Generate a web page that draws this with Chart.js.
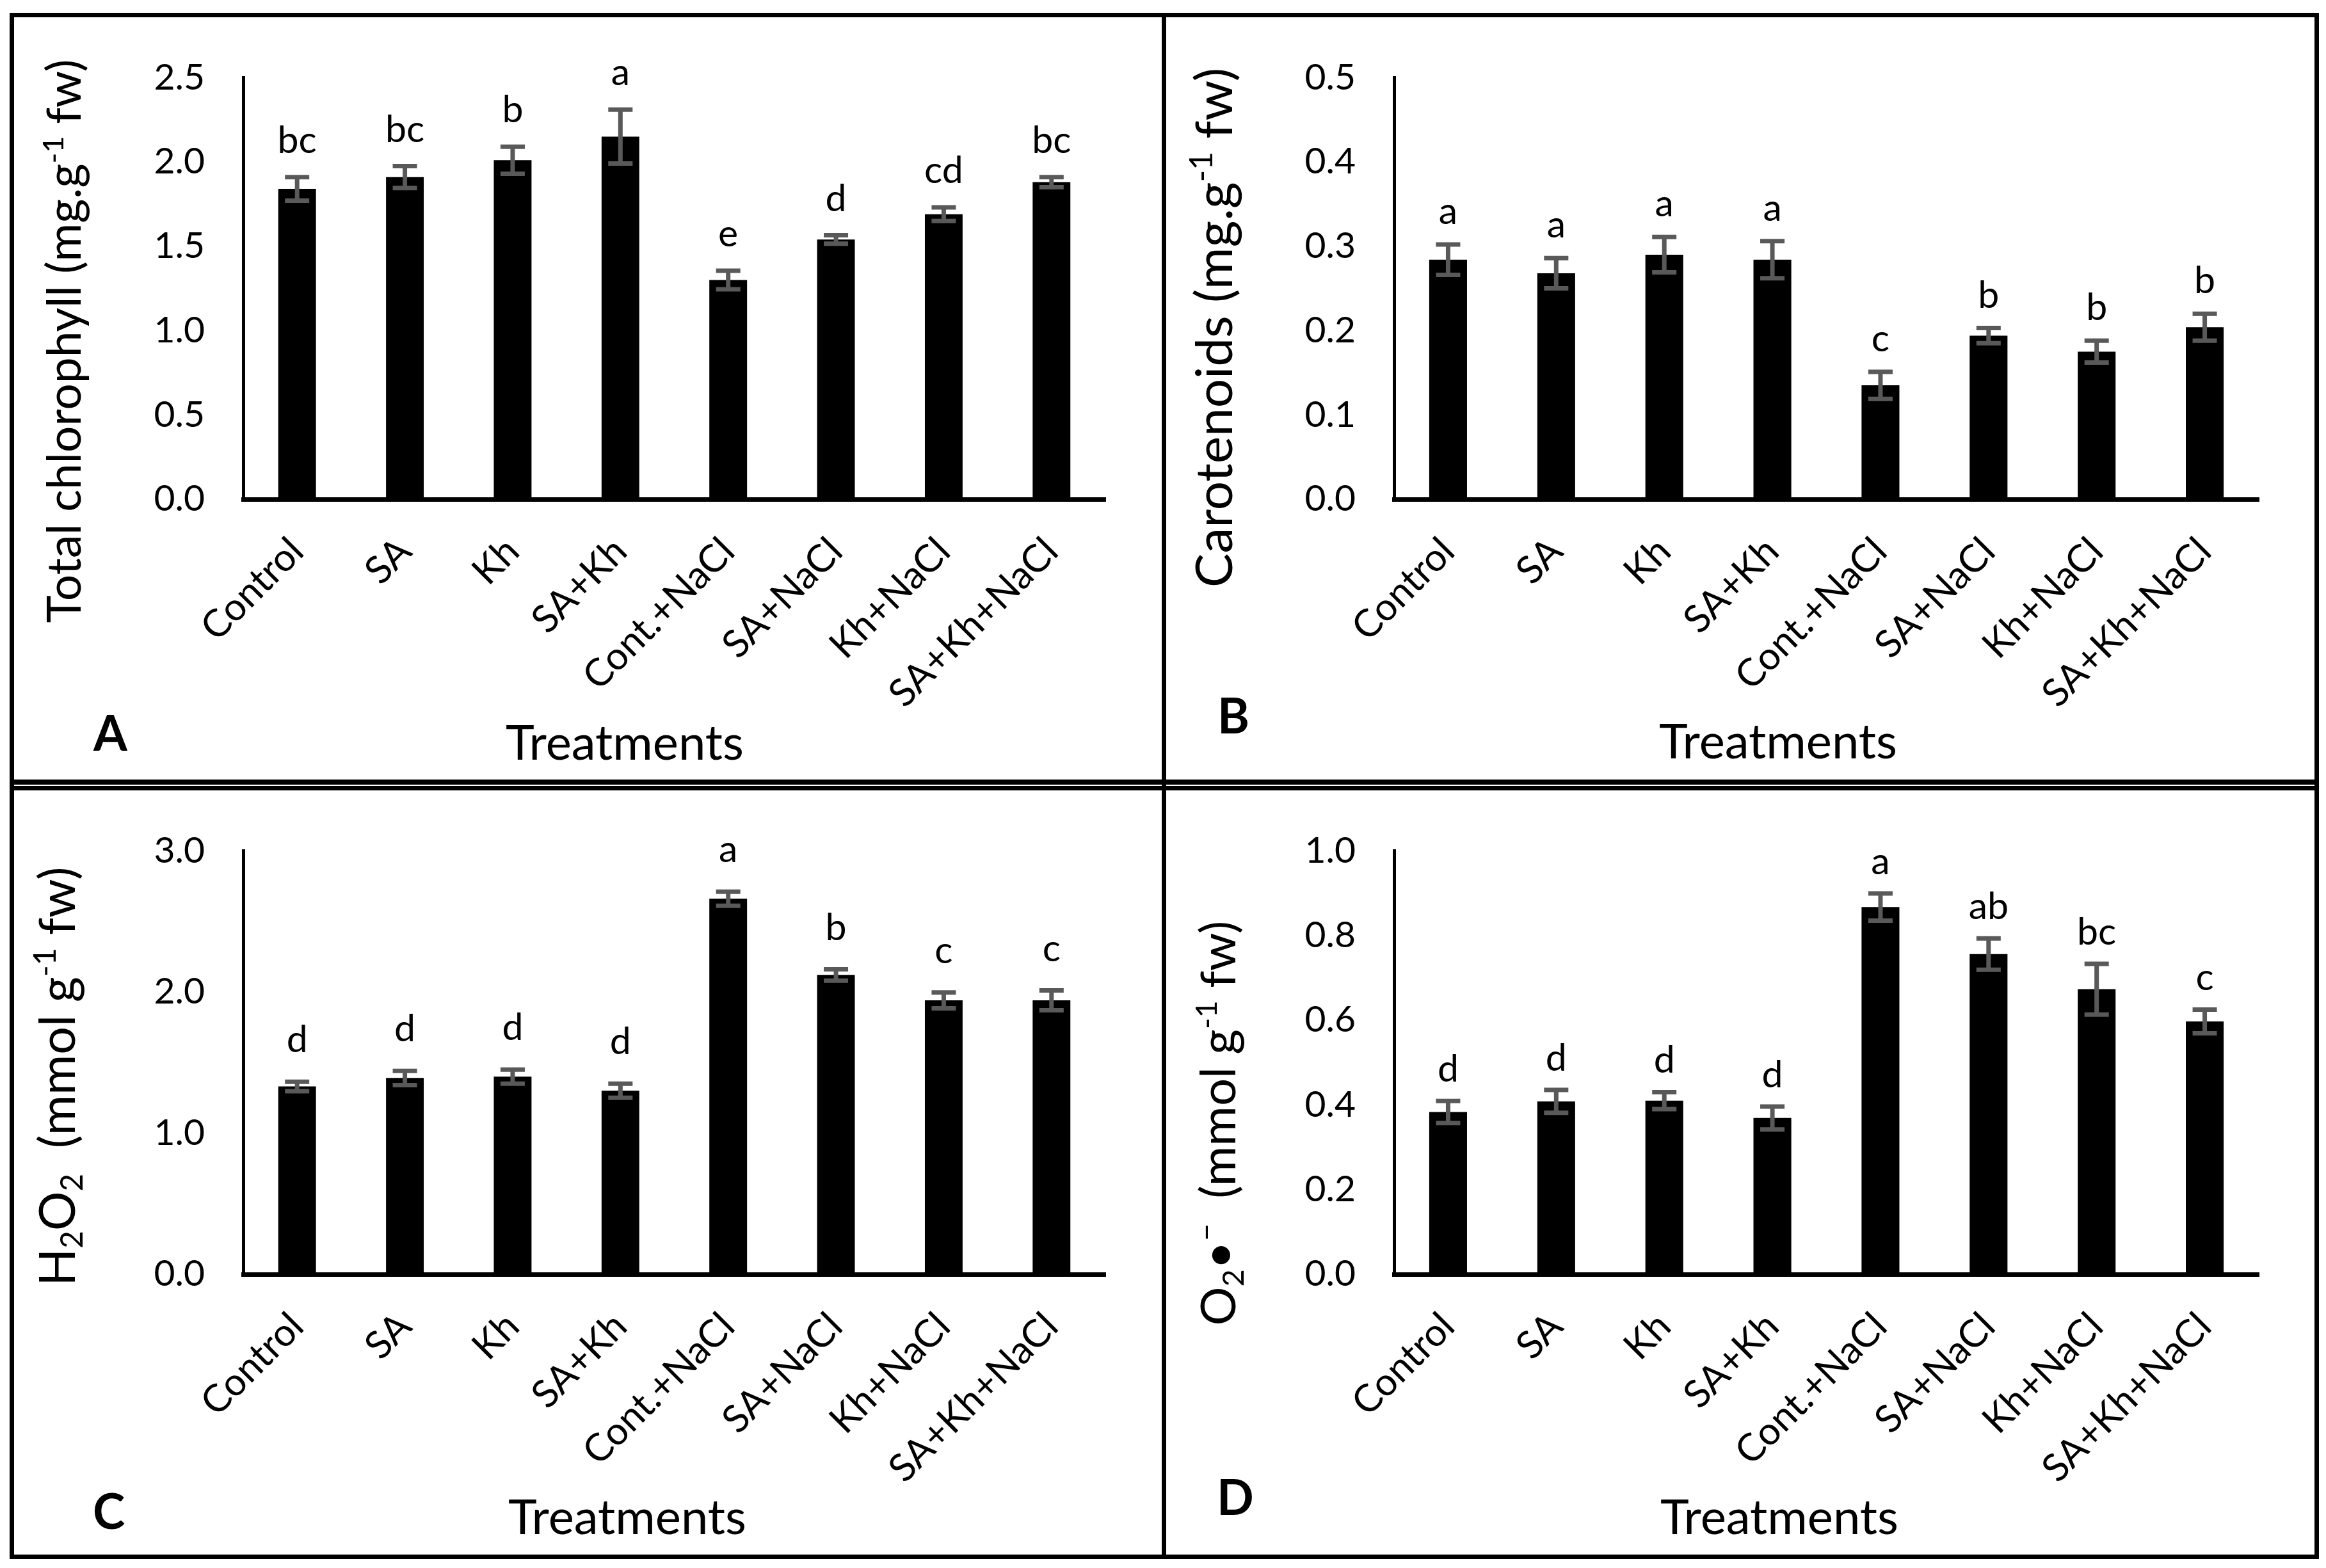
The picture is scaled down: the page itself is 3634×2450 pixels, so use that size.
<!DOCTYPE html>
<html>
<head>
<meta charset="utf-8">
<script src="https://cdn.jsdelivr.net/npm/chart.js@4.4.1/dist/chart.umd.min.js"></script>
<style>
  body { margin: 0; background: #fff; }
  #fig { position: relative; width: 3634px; height: 2450px; background: #fff; }
  .line { position: absolute; background: #000; }
  canvas { position: absolute; }
</style>
</head>
<body>
<div id="fig">
  <div class="line" style="left:15px;top:20px;width:3608px;height:7px"></div>
  <div class="line" style="left:15px;top:2429px;width:3608px;height:7px"></div>
  <div class="line" style="left:15px;top:20px;width:7px;height:2416px"></div>
  <div class="line" style="left:3616px;top:20px;width:7px;height:2416px"></div>
  <div class="line" style="left:15px;top:1218px;width:3608px;height:8px"></div>
  <div class="line" style="left:15px;top:1228px;width:3608px;height:7px"></div>
  <div class="line" style="left:1815px;top:20px;width:7px;height:2416px"></div>
  <canvas id="chartA"></canvas>
  <canvas id="chartB"></canvas>
  <canvas id="chartC"></canvas>
  <canvas id="chartD"></canvas>
</div>
<script>
const categories = ["Control", "SA", "Kh", "SA+Kh", "Cont.+NaCl", "SA+NaCl", "Kh+NaCl", "SA+Kh+NaCl"];

// A - total chlorophyll
const chlorophyll = [1.84, 1.91, 2.01, 2.15, 1.30, 1.54, 1.69, 1.88];
const chlorophyllErr = [0.07, 0.065, 0.08, 0.16, 0.055, 0.025, 0.04, 0.03];
const chlorophyllLetters = ["bc", "bc", "b", "a", "e", "d", "cd", "bc"];
const chlorophyllTicks = [0.0, 0.5, 1.0, 1.5, 2.0, 2.5];

// B - carotenoids
const carotenoids = [0.284, 0.268, 0.290, 0.284, 0.135, 0.194, 0.175, 0.204];
const carotenoidsErr = [0.018, 0.018, 0.021, 0.022, 0.016, 0.009, 0.013, 0.016];
const carotenoidsLetters = ["a", "a", "a", "a", "c", "b", "b", "b"];
const carotenoidsTicks = [0.0, 0.1, 0.2, 0.3, 0.4, 0.5];

// C - H2O2
const h2o2 = [1.33, 1.39, 1.40, 1.30, 2.66, 2.12, 1.94, 1.94];
const h2o2Err = [0.033, 0.05, 0.05, 0.05, 0.05, 0.04, 0.056, 0.07];
const h2o2Letters = ["d", "d", "d", "d", "a", "b", "c", "c"];
const h2o2Ticks = [0.0, 1.0, 2.0, 3.0];

// D - superoxide
const superoxide = [0.383, 0.408, 0.410, 0.369, 0.867, 0.756, 0.673, 0.597];
const superoxideErr = [0.026, 0.027, 0.02, 0.027, 0.032, 0.037, 0.06, 0.028];
const superoxideLetters = ["d", "d", "d", "d", "a", "ab", "bc", "c"];
const superoxideTicks = [0.0, 0.2, 0.4, 0.6, 0.8, 1.0];

const FONT = "Lato, 'Open Sans', sans-serif";
const Y_AXIS_W = 200;
const X_AXIS_H = 350;

const panels = [
  {
    id: "chartA", letter: "A",
    values: chlorophyll, errors: chlorophyllErr, letters: chlorophyllLetters, ticks: chlorophyllTicks,
    canvas: { l: 22, t: 27, w: 1793, h: 1191 },
    plot: { l: 380, t: 113, r: 1727, b: 780 },
    title: [{ t: "Total chlorophyll (mg.g" }, { t: "-1", s: "sup" }, { t: " fw)" }],
    titleAt: { x: 100, y: 533, size: 73 },
    xTitleAt: { x: 976, y: 1187 },
    letterAt: { x: 146, y: 1173 },
    gap: 38
  },
  {
    id: "chartB", letter: "B",
    values: carotenoids, errors: carotenoidsErr, letters: carotenoidsLetters, ticks: carotenoidsTicks,
    canvas: { l: 1822, t: 27, w: 1793, h: 1191 },
    plot: { l: 2178, t: 114, r: 3529, b: 780 },
    title: [{ t: "Carotenoids (mg.g" }, { t: "-1", s: "sup" }, { t: " fw)" }],
    titleAt: { x: 1896, y: 512, size: 80 },
    xTitleAt: { x: 2778, y: 1185 },
    letterAt: { x: 1902, y: 1146 },
    gap: 32
  },
  {
    id: "chartC", letter: "C",
    values: h2o2, errors: h2o2Err, letters: h2o2Letters, ticks: h2o2Ticks,
    canvas: { l: 22, t: 1235, w: 1793, h: 1193 },
    plot: { l: 380, t: 1322, r: 1727, b: 1991 },
    title: [{ t: "H" }, { t: "2", s: "sub" }, { t: "O" }, { t: "2", s: "sub" }, { t: "  (mmol g" }, { t: "-1", s: "sup" }, { t: " fw)" }],
    titleAt: { x: 89, y: 1682, size: 77 },
    xTitleAt: { x: 980, y: 2397 },
    letterAt: { x: 145, y: 2389 },
    gap: 46
  },
  {
    id: "chartD", letter: "D",
    values: superoxide, errors: superoxideErr, letters: superoxideLetters, ticks: superoxideTicks,
    canvas: { l: 1822, t: 1235, w: 1793, h: 1193 },
    plot: { l: 2178, t: 1322, r: 3529, b: 1991 },
    title: [{ t: "O" }, { t: "2", s: "sub" }, { t: "\u2022" }, { t: "\u2212", s: "sup" }, { t: "  (mmol g" }, { t: "-1", s: "sup" }, { t: " fw)" }],
    titleAt: { x: 1903, y: 1755, size: 76 },
    xTitleAt: { x: 2780, y: 2397 },
    letterAt: { x: 1901, y: 2367 },
    gap: 30
  }
];

function segFont(seg, size) {
  const s = seg.s ? size * 0.62 : size;
  return `${s}px ${FONT}`;
}

function drawRich(ctx, segs, x, y, size) {
  ctx.save();
  ctx.translate(x, y);
  ctx.rotate(-Math.PI / 2);
  ctx.textBaseline = "alphabetic";
  ctx.textAlign = "left";
  ctx.fillStyle = "#000";
  let total = 0;
  segs.forEach(seg => { ctx.font = segFont(seg, size); total += ctx.measureText(seg.t).width; });
  let cx = -total / 2;
  const base = size * 0.36;
  segs.forEach(seg => {
    ctx.font = segFont(seg, size);
    let dy = 0;
    if (seg.s === "sup") dy = -size * 0.38;
    if (seg.s === "sub") dy = size * 0.16;
    ctx.fillText(seg.t, cx, base + dy);
    cx += ctx.measureText(seg.t).width;
  });
  ctx.restore();
}

function makeDeco(p) {
  return {
    id: "deco" + p.letter,
    afterDatasetsDraw(chart) {
      const ctx = chart.ctx;
      const yScale = chart.scales.y;
      const meta = chart.getDatasetMeta(0);
      const ox = p.canvas.l, oy = p.canvas.t;
      ctx.save();
      ctx.strokeStyle = "#595959";
      ctx.lineWidth = 7;
      ctx.lineCap = "butt";
      meta.data.forEach((bar, i) => {
        const hi = yScale.getPixelForValue(p.values[i] + p.errors[i]);
        const lo = yScale.getPixelForValue(p.values[i] - p.errors[i]);
        ctx.beginPath();
        ctx.moveTo(bar.x, hi); ctx.lineTo(bar.x, lo);
        ctx.moveTo(bar.x - 19, hi); ctx.lineTo(bar.x + 19, hi);
        ctx.moveTo(bar.x - 19, lo); ctx.lineTo(bar.x + 19, lo);
        ctx.stroke();
      });
      ctx.fillStyle = "#000";
      ctx.textAlign = "center";
      ctx.textBaseline = "alphabetic";
      ctx.font = `59px ${FONT}`;
      meta.data.forEach((bar, i) => {
        const top = yScale.getPixelForValue(p.values[i] + p.errors[i]);
        ctx.fillText(p.letters[i], bar.x, top - p.gap);
      });
      ctx.font = `76px ${FONT}`;
      ctx.fillText("Treatments", p.xTitleAt.x - ox, p.xTitleAt.y - oy);
      ctx.textAlign = "left";
      ctx.font = `bold 76px ${FONT}`;
      ctx.fillText(p.letter, p.letterAt.x - ox, p.letterAt.y - oy);
      ctx.restore();
      drawRich(ctx, p.title, p.titleAt.x - ox, p.titleAt.y - oy, p.titleAt.size);
    }
  };
}

panels.forEach(p => {
  const el = document.getElementById(p.id);
  el.width = p.canvas.w;
  el.height = p.canvas.h;
  el.style.left = p.canvas.l + "px";
  el.style.top = p.canvas.t + "px";
  el.style.width = p.canvas.w + "px";
  el.style.height = p.canvas.h + "px";

  const padding = {
    left: p.plot.l - p.canvas.l - Y_AXIS_W,
    top: p.plot.t - p.canvas.t,
    right: p.canvas.l + p.canvas.w - p.plot.r,
    bottom: p.canvas.t + p.canvas.h - p.plot.b - X_AXIS_H
  };

  new Chart(el, {
    type: "bar",
    data: {
      labels: categories,
      datasets: [{
        data: p.values,
        backgroundColor: "#000",
        borderWidth: 0,
        barPercentage: 0.35,
        categoryPercentage: 1.0
      }]
    },
    options: {
      responsive: false,
      animation: false,
      devicePixelRatio: 1,
      layout: { padding },
      plugins: { legend: { display: false }, tooltip: { enabled: false } },
      scales: {
        x: {
          grid: { display: false, drawTicks: false },
          border: { display: true, color: "#000", width: 7 },
          ticks: {
            color: "#000", font: { family: FONT, size: 60 },
            minRotation: 45, maxRotation: 45, autoSkip: false, padding: 46
          },
          afterFit(s) { s.height = X_AXIS_H; }
        },
        y: {
          min: p.ticks[0],
          max: p.ticks[p.ticks.length - 1],
          grid: { display: false, drawTicks: false },
          border: { display: true, color: "#000", width: 5 },
          ticks: {
            stepSize: p.ticks[1] - p.ticks[0],
            color: "#000", font: { family: FONT, size: 57 }, padding: 60,
            callback: v => Number(v).toFixed(1)
          },
          afterFit(s) { s.width = Y_AXIS_W; }
        }
      }
    },
    plugins: [makeDeco(p)]
  });
});
</script>
</body>
</html>
